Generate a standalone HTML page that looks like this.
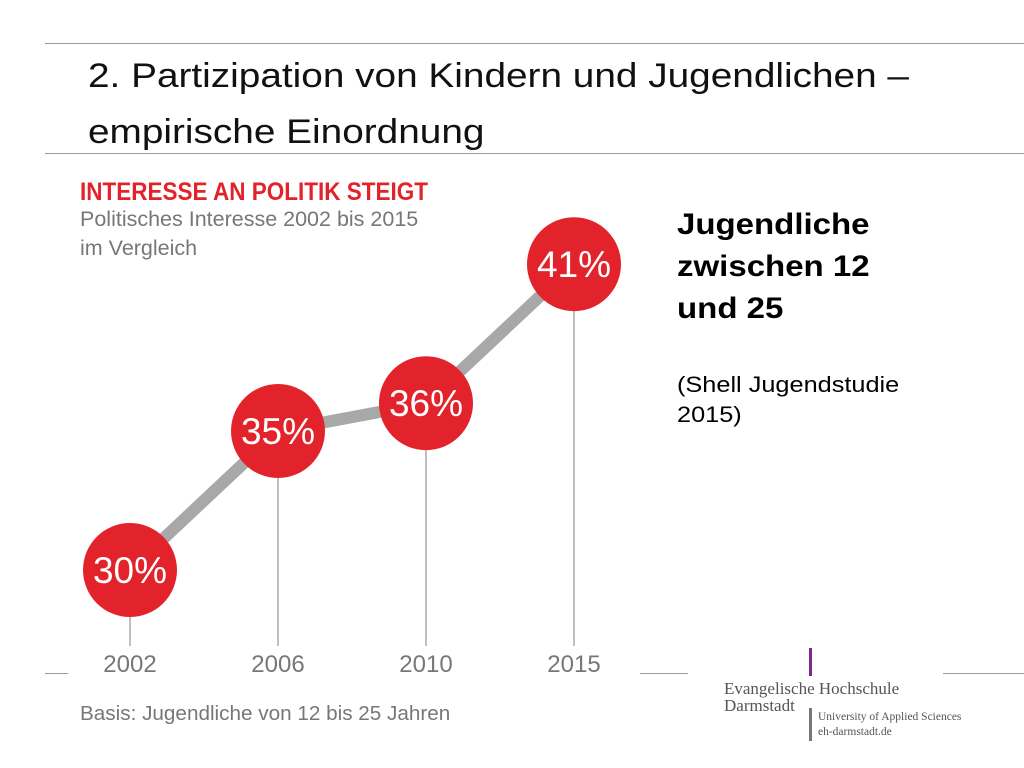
<!DOCTYPE html>
<html><head><meta charset="utf-8"><style>
body{margin:0;width:1024px;height:768px;background:#fff;position:relative;overflow:hidden;font-family:"Liberation Sans",sans-serif}
.a{position:absolute;white-space:nowrap}
.hl{position:absolute;height:1px;background:#9a9a9a}
</style></head><body>
<div class="hl" style="left:45px;top:43px;width:979px"></div>
<div class="hl" style="left:45px;top:153px;width:979px"></div>
<div class="a" style="left:88px;top:48px;font-size:34px;line-height:56px;color:#111;transform:scaleX(1.14);transform-origin:left">2. Partizipation von Kindern und Jugendlichen –<br>empirische Einordnung</div>

<div class="a" style="left:80px;top:178px;font-size:25px;font-weight:bold;color:#e3232b;transform:scaleX(0.9);transform-origin:left">INTERESSE AN POLITIK STEIGT</div>
<div class="a" style="left:80px;top:205px;font-size:21.5px;line-height:29px;color:#777">Politisches Interesse 2002 bis 2015<br>im Vergleich</div>
<div class="a" style="left:80px;top:702px;font-size:20.7px;color:#777">Basis: Jugendliche von 12 bis 25 Jahren</div>

<svg id="chart" width="1024" height="768" style="position:absolute;left:0;top:0"></svg>

<div class="a" style="left:677px;top:204px;font-size:30px;font-weight:bold;line-height:42px;color:#000;transform:scaleX(1.1);transform-origin:left">Jugendliche<br>zwischen 12<br>und 25</div>
<div class="a" style="left:677px;top:370px;font-size:22px;line-height:30px;color:#000;transform:scaleX(1.15);transform-origin:left">(Shell Jugendstudie<br>2015)</div>

<div class="hl" style="left:45px;top:673px;width:23px"></div>
<div class="hl" style="left:640px;top:673px;width:48px"></div>
<div class="hl" style="left:943px;top:673px;width:81px"></div>
<div class="a" style="left:809px;top:648px;width:3px;height:28px;background:#7b2a86"></div>
<div class="a" style="left:724px;top:680px;font-family:'Liberation Serif',serif;font-size:17px;line-height:17px;color:#555">Evangelische Hochschule<br>Darmstadt</div>
<div class="a" style="left:809px;top:708px;width:3px;height:33px;background:#777"></div>
<div class="a" style="left:818px;top:710px;font-family:'Liberation Serif',serif;font-size:11.5px;line-height:15px;color:#555">University of Applied Sciences<br>eh-darmstadt.de</div>

<script>
const years = ["2002","2006","2010","2015"];
const values = [30,35,36,41];
const labels = ["30%","35%","36%","41%"];
const NS="http://www.w3.org/2000/svg";
const svg=document.getElementById('chart');
function xPos(i){return 130+i*148;}
function yPos(v){return 570-(v-30)*27.8;}
const R=47;
function mk(t,a){const e=document.createElementNS(NS,t);for(const k in a)e.setAttribute(k,a[k]);svg.appendChild(e);return e;}
values.forEach((v,i)=>{
  const l=mk('line',{x1:xPos(i),y1:yPos(v)+R,x2:xPos(i),y2:646,stroke:'#aaa','stroke-width':1.5});
  
  
  const t=mk('text',{x:xPos(i),y:672,'text-anchor':'middle','font-size':24,fill:'#777','font-family':'Liberation Sans, sans-serif'});
  t.textContent=years[i];
  
  
});
for(let i=0;i<values.length-1;i++){
  const seg=mk('line',{x1:xPos(i),y1:yPos(values[i]),x2:xPos(i+1),y2:yPos(values[i+1]),stroke:'#a8a8a8','stroke-width':12});
  
  
}
values.forEach((v,i)=>{
  const c=mk('circle',{cx:xPos(i),cy:yPos(v),r:R,fill:'#e3232b'});
  
  
  const t=mk('text',{x:xPos(i),y:yPos(v)+13,'text-anchor':'middle','font-size':37,fill:'#fff','font-family':'Liberation Sans, sans-serif'});
  t.textContent=labels[i];
  
  
});
</script>
</body></html>
